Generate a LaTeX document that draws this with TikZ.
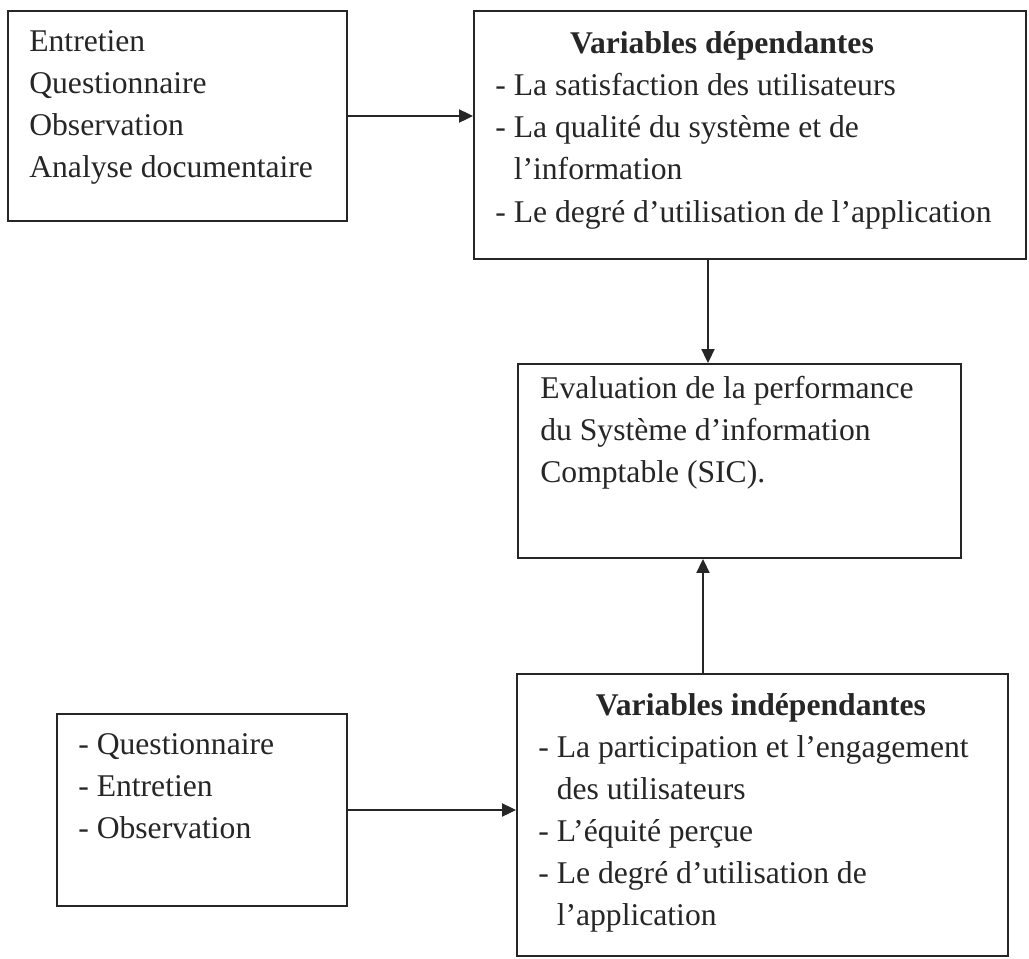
\documentclass[tikz,border=0pt]{standalone}
\usepackage{fontspec}
\setmainfont{Liberation Serif}
\usetikzlibrary{positioning}
\usetikzlibrary{calc}
\usetikzlibrary{arrows.meta}

\begin{document}
\begin{tikzpicture}[x=0.02cm, y=-0.02cm,
  box/.style={draw=black!85, line width=1.1pt, inner sep=0pt},
  txt/.style={inner sep=0pt, align=left, anchor=north west, text=black!85, font=\fontsize{18}{24}\selectfont},
  head/.style={inner sep=0pt, anchor=base, text=black!85, font=\fontsize{18}{24}\selectfont\bfseries},
  arr/.style={draw=black!85, line width=1.1pt, -{Triangle[length=0.28cm, width=0.26cm]}}]
\useasboundingbox (0,0) rectangle (1029,958);
%%%%%%%%%%%%%%
\node[box, minimum width=6.78cm, minimum height=4.2cm] (meth1) at (177.5,116) {};
\node[box, minimum width=11.04cm, minimum height=4.96cm] (depvar) at (750,135) {};
\node[box, minimum width=8.86cm, minimum height=3.88cm] (eval) at (739.5,461) {};
\node[box, minimum width=5.8cm, minimum height=3.84cm] (meth2) at (202,810) {};
\node[box, minimum width=9.82cm, minimum height=5.64cm] (indvar) at (762.5,815) {};
%%%%%%%%%%%%%%
\node[txt] (meth1txt) at (29,30) {Entretien\\Questionnaire\\Observation\\Analyse documentaire};
\node[head] (depvarhead) at (722,53) {Variables dépendantes};
\node[txt] (depvartxt) at (495,73) {- La satisfaction des utilisateurs\\- La qualité du système et de\\\phantom{-~}l’information\\- Le degré d’utilisation de l’application};
\node[txt] (evaltxt) at (540,376) {Evaluation de la performance\\du Système d’information\\Comptable (SIC).};
\node[txt] (meth2txt) at (78,733) {- Questionnaire\\- Entretien\\- Observation};
\node[head] (indvarhead) at (761,715) {Variables indépendantes};
\node[txt] (indvartxt) at (538,735) {- La participation et l’engagement\\\phantom{-~}des utilisateurs\\- L’équité perçue\\- Le degré d’utilisation de\\\phantom{-~}l’application};
%%%%%%%%%%%%%%
\coordinate (evalin1) at ($(eval.north)+(-31.5,0)$);
\coordinate (evalin2) at ($(eval.south)+(-36.5,0)$);

\draw[arr] (meth1.east) -- (meth1.east -| depvar.west);
\draw[arr] (evalin1 |- depvar.south) -- (evalin1);
\draw[arr] (evalin2 |- indvar.north) -- (evalin2);
\draw[arr] (meth2.east) -- (meth2.east -| indvar.west);

\end{tikzpicture}
\end{document}
